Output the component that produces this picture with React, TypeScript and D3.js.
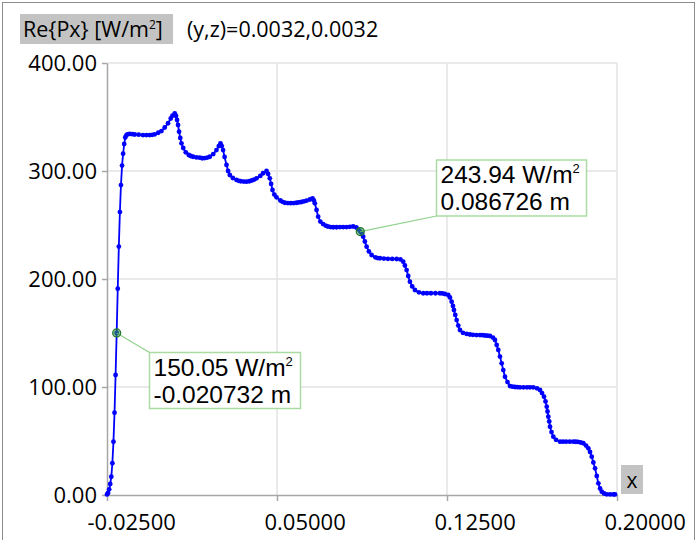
import React, {useEffect, useRef} from "react";
import * as d3 from "d3";

// Re{Px} along x (x in m, Re{Px} in W/m^2)
const xValues = [
    -0.025, -0.02453, -0.02405, -0.02358, -0.0231, -0.02263, -0.02215, -0.02168, -0.02121, -0.020732,
    -0.02026, -0.01978, -0.01931, -0.01884, -0.01836, -0.01789, -0.01741, -0.01694, -0.01647, -0.01599,
    -0.01498, -0.01387, -0.01277, -0.011, -0.00911, -0.0076, -0.00615, -0.00504, -0.00394, -0.0024,
    -0.00098, 0.00047, 0.00193, 0.00312, 0.00387, 0.00489, 0.00546, 0.00591, 0.00635, 0.00679,
    0.00732, 0.00785, 0.00864, 0.00975, 0.01107, 0.01195, 0.01297, 0.01447, 0.01593, 0.01703,
    0.01813, 0.01924, 0.02034, 0.02189, 0.0233, 0.02432, 0.02507, 0.02564, 0.02621, 0.02688,
    0.02772, 0.02842, 0.02917, 0.0305, 0.03213, 0.03315, 0.03403, 0.03535, 0.03655, 0.03778,
    0.03889, 0.0399, 0.04096, 0.04264, 0.04387, 0.04538, 0.04608, 0.04683, 0.04741, 0.04802,
    0.04882, 0.04979, 0.05147, 0.05244, 0.05345, 0.05478, 0.0561, 0.05743, 0.05862, 0.05964,
    0.06074, 0.06184, 0.06304, 0.06449, 0.06568, 0.06626, 0.0667, 0.06745, 0.06816, 0.06913,
    0.07036, 0.07142, 0.07244, 0.07363, 0.07478, 0.07628, 0.07774, 0.0792, 0.0807, 0.08215,
    0.08361, 0.08502, 0.08582, 0.086726, 0.08745, 0.08802, 0.08877, 0.08953, 0.09054, 0.09173,
    0.09341, 0.09438, 0.0954, 0.09716, 0.09893, 0.10083, 0.10277, 0.10445, 0.10568, 0.10643,
    0.10719, 0.10789, 0.10864, 0.10966, 0.11085, 0.11262, 0.11451, 0.11615, 0.11791, 0.1199,
    0.12189, 0.12299, 0.1241, 0.12555, 0.1263, 0.12705, 0.12763, 0.12807, 0.12864, 0.12926,
    0.12997, 0.13072, 0.13204, 0.13368, 0.13513, 0.13646, 0.138, 0.13955, 0.14065, 0.14175,
    0.14286, 0.14396, 0.14529, 0.14617, 0.14692, 0.14763, 0.14838, 0.14913, 0.14983, 0.15058,
    0.15169, 0.15279, 0.1539, 0.155, 0.1561, 0.15721, 0.15875, 0.1603, 0.16162, 0.16308,
    0.16471, 0.16604, 0.16692, 0.1678, 0.16847, 0.169, 0.16935, 0.1697, 0.1701, 0.17045,
    0.17111, 0.17191, 0.1731, 0.17487, 0.17619, 0.17752, 0.17915, 0.18074, 0.1818, 0.18281,
    0.18401, 0.18515, 0.18635, 0.18736, 0.18811, 0.18886, 0.18957, 0.19032, 0.19107, 0.19178,
    0.19253, 0.19328, 0.19429, 0.19549, 0.19694, 0.1984, 0.19915,
];
const pxValues = [
    0.5, 1.9, 5.3, 10.2, 16.9, 29.4, 49.4, 76.2, 111.1, 150.05,
    191, 230, 262, 287, 305, 316, 325, 331, 333, 334,
    334.3, 334.1, 333.8, 333.6, 333.3, 333.3, 333.3, 333.5, 334.0, 335.4,
    337.0, 340.3, 344.2, 348.6, 351.2, 353.4, 351.0, 347.2, 342.6, 336.4,
    330.6, 325.6, 321.3, 317.3, 314.8, 313.9, 313.2, 312.6, 312.3, 311.8,
    312.0, 312.4, 313.2, 315.7, 319.4, 323.1, 325.6, 323.1, 319.4, 313.0,
    305.6, 300.0, 296.3, 293.5, 291.7, 290.9, 290.5, 290.2, 290.1, 290.5,
    291.2, 292.1, 293.2, 295.4, 297.9, 300.0, 297.2, 293.2, 288.0, 282.4,
    278.2, 275.6, 272.7, 271.5, 270.6, 270.3, 270.2, 270.3, 270.6, 270.9,
    271.3, 271.8, 272.5, 273.6, 274.7, 272.7, 270.1, 263.9, 257.7, 253.2,
    250.9, 249.5, 248.6, 248.1, 247.9, 247.9, 248.1, 248.1, 248.1, 248.3,
    248.6, 247.7, 246.0, 243.94, 242.1, 239.2, 234.7, 229.9, 225.5, 222.2,
    220.1, 219.4, 219.2, 218.9, 218.7, 218.6, 218.5, 218.1, 216.0, 212.5,
    208.3, 202.8, 197.5, 193.1, 189.8, 187.7, 186.8, 186.8, 186.8, 186.8,
    186.8, 186.6, 186.1, 185.2, 182.9, 179.0, 175.0, 171.3, 166.7, 162.0,
    156.9, 152.8, 150.2, 149.1, 148.6, 148.3, 148.1, 148.1, 148.0, 147.7,
    147.5, 147.2, 145.8, 143.5, 138.9, 134.3, 128.2, 121.9, 115.7, 109.5,
    104.6, 100.9, 100.3, 100.0, 99.8, 99.7, 99.7, 99.7, 99.7, 99.7,
    98.8, 97.2, 94.4, 91.0, 86.6, 81.8, 77.3, 72.5, 68.1, 63.2,
    58.3, 54.0, 51.1, 49.4, 49.4, 49.4, 49.4, 49.4, 49.3, 49.1,
    48.6, 47.9, 45.8, 43.2, 39.8, 35.5, 30.1, 24.7, 17.6, 10.8,
    6.0, 3.1, 1.4, 0.6, 0.5, 0.5, 0.5,
];

const xTicks = [-0.025, 0.05, 0.125, 0.2];
const yTicks = [0, 100, 200, 300, 400];

// the two probe readouts
const probeX = [-0.020732, 0.086726];
const probeY = [150.05, 243.94];

const uiFont = "'Open Sans', sans-serif";
const noteFont = "'Liberation Sans', Arial, sans-serif";

function App() {
    const svgRef = useRef<SVGSVGElement | null>(null);

    useEffect(() => {
        if (!svgRef.current) return;
        const svg = d3.select(svgRef.current);
        svg.selectAll("*").remove();

        const width = 700;
        const height = 540;
        const plot = {left: 107, right: 617, top: 63, bottom: 495};

        const xScale = d3.scaleLinear().domain([-0.025, 0.2]).range([plot.left, plot.right]);
        const yScale = d3.scaleLinear().domain([0, 400]).range([plot.bottom, plot.top]);

        svg.attr("width", width).attr("height", height).attr("viewBox", `0 0 ${width} ${height}`);

        svg.append("rect")
            .attr("width", width).attr("height", height).attr("fill", "#fff");
        // outer frame
        svg.append("rect")
            .attr("x", 2.5).attr("y", 2.5)
            .attr("width", 692).attr("height", 560)
            .attr("fill", "none").attr("stroke", "#8c8c8c").attr("stroke-width", 1);

        // grid
        const grid = svg.append("g");
        grid.selectAll("line.h")
            .data(yTicks.filter((d) => d > 0))
            .enter().append("line")
            .attr("x1", plot.left).attr("x2", plot.right)
            .attr("y1", (d) => yScale(d)).attr("y2", (d) => yScale(d))
            .attr("stroke", "#e3e3e3").attr("stroke-width", 1.5);
        grid.selectAll("line.v")
            .data(xTicks.slice(1))
            .enter().append("line")
            .attr("y1", plot.top).attr("y2", plot.bottom)
            .attr("x1", (d) => xScale(d)).attr("x2", (d) => xScale(d))
            .attr("stroke", "#e3e3e3").attr("stroke-width", 1.5);

        // y axis
        const yAxis = svg.append("g")
            .attr("transform", `translate(${plot.left},0)`)
            .call(d3.axisLeft(yScale).tickValues(yTicks).tickFormat(d3.format(".2f")).tickSize(5).tickSizeOuter(0));
        yAxis.select(".domain").attr("stroke", "#a6a6a6").attr("stroke-width", 1.5);
        yAxis.selectAll(".tick line").attr("stroke", "#a6a6a6").attr("stroke-width", 1.5);
        yAxis.selectAll(".tick text")
            .attr("x", -10).attr("dy", "0.36em")
            .style("font-family", uiFont).style("font-size", "22px").attr("fill", "#000");

        // x axis
        const xAxis = svg.append("g")
            .attr("transform", `translate(0,${plot.bottom})`)
            .call(d3.axisBottom(xScale).tickValues(xTicks).tickFormat(d3.format(".5f")).tickSize(6).tickSizeOuter(0));
        xAxis.select(".domain").attr("stroke", "#a6a6a6").attr("stroke-width", 1.5);
        xAxis.selectAll(".tick line").attr("stroke", "#a6a6a6").attr("stroke-width", 1.5);
        xAxis.selectAll<SVGTextElement, number>(".tick text")
            .text((d) => d3.format(".5f")(d).replace("−", "-"))
            .attr("text-anchor", "start")
            .attr("x", (d) => (d < 0 ? -20 : -13))
            .attr("y", 35).attr("dy", 0)
            .style("font-family", uiFont).style("font-size", "22px").attr("fill", "#000");
        svg.selectAll(".domain").attr("fill", "none");

        // the curve, with a dot on every sample
        const pts = xValues.map((x, i) => [x, pxValues[i]] as [number, number]);
        const line = d3.line<[number, number]>()
            .x((d) => xScale(d[0]))
            .y((d) => yScale(d[1]));
        svg.append("path")
            .datum(pts)
            .attr("d", line)
            .attr("fill", "none")
            .attr("stroke", "#0000ff")
            .attr("stroke-width", 1.8);
        svg.append("g")
            .selectAll("circle")
            .data(pts)
            .enter().append("circle")
            .attr("cx", (d) => xScale(d[0]))
            .attr("cy", (d) => yScale(d[1]))
            .attr("r", 2.4)
            .attr("fill", "#0000ff");

        // probe readouts
        const boxes = [
            {x: 149.5, y: 352.5, w: 151, h: 56, anchorX: 149.5, anchorY: 352.5},
            {x: 436.5, y: 160, w: 150, h: 56, anchorX: 436.5, anchorY: 216},
        ];
        probeX.forEach((px, i) => {
            const cx = xScale(px);
            const cy = yScale(probeY[i]);
            const b = boxes[i];
            svg.append("line")
                .attr("x1", cx).attr("y1", cy)
                .attr("x2", b.anchorX).attr("y2", b.anchorY)
                .attr("stroke", "#8fd18b").attr("stroke-width", 1.2);
            svg.append("circle")
                .attr("cx", cx).attr("cy", cy).attr("r", 4)
                .attr("fill", "#2f9a3a").attr("fill-opacity", 0.55)
                .attr("stroke", "#1f7a2a").attr("stroke-width", 1.2);
            svg.append("rect")
                .attr("x", b.x).attr("y", b.y).attr("width", b.w).attr("height", b.h)
                .attr("fill", "#fff").attr("stroke", "#a9dba3").attr("stroke-width", 1.5);
            const t1 = svg.append("text")
                .attr("x", b.x + 4).attr("y", b.y + 23)
                .style("font-family", noteFont).style("font-size", "24.5px").attr("fill", "#000");
            t1.append("tspan").text(`${probeY[i].toFixed(2)} W/m`);
            t1.append("tspan").attr("dy", -10).style("font-size", "13px").text("2");
            svg.append("text")
                .attr("x", b.x + 4).attr("y", b.y + 50)
                .style("font-family", noteFont).style("font-size", "24.5px").attr("fill", "#000")
                .text(`${px} m`);
        });

        // header: quantity name and probe line position
        svg.append("rect")
            .attr("x", 20).attr("y", 14).attr("width", 153).attr("height", 30)
            .attr("fill", "#c3c3c3");
        const title = svg.append("text")
            .attr("x", 23).attr("y", 37)
            .style("font-family", uiFont).style("font-size", "21.5px").attr("fill", "#000");
        title.append("tspan").text("Re{Px} [W/m");
        title.append("tspan").attr("dy", -8).style("font-size", "12px").text("2");
        title.append("tspan").attr("dy", 8).text("]");
        svg.append("text")
            .attr("x", 187).attr("y", 37)
            .style("font-family", uiFont).style("font-size", "21.5px").attr("fill", "#000")
            .text("(y,z)=0.0032,0.0032");

        // x axis name
        svg.append("rect")
            .attr("x", 621).attr("y", 465).attr("width", 22).attr("height", 29)
            .attr("fill", "#c3c3c3");
        svg.append("text")
            .attr("x", 632).attr("y", 488).attr("text-anchor", "middle")
            .style("font-family", uiFont).style("font-size", "21px").attr("fill", "#000")
            .text("x");
    }, []);

    return (
        <svg ref={svgRef} style={{position: "absolute", left: 0, top: 0, display: "block"}}/>
    );
}

export default App;
